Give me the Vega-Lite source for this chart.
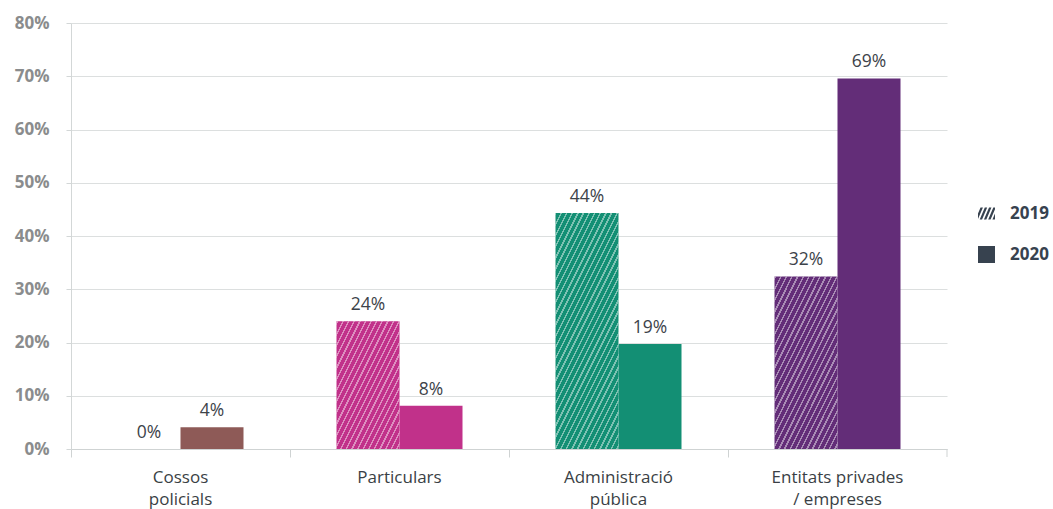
{
  "$schema": "https://vega.github.io/schema/vega-lite/v6.json",
  "width": 876,
  "height": 426,
  "autosize": {"type": "none"},
  "padding": {"left": 71, "top": 23, "right": 106, "bottom": 60},
  "background": "white",
  "config": {"view": {"stroke": null}},
  "params": [
    {"name": "hatch", "value": [
      {"offset":0,"color":"#ffffff00"},{"offset":0.0175,"color":"#ffffff00"},{"offset":0.0175,"color":"#ffffff73"},{"offset":0.025,"color":"#ffffff73"},
      {"offset":0.025,"color":"#ffffff00"},{"offset":0.0425,"color":"#ffffff00"},{"offset":0.0425,"color":"#ffffff73"},{"offset":0.05,"color":"#ffffff73"},
      {"offset":0.05,"color":"#ffffff00"},{"offset":0.0675,"color":"#ffffff00"},{"offset":0.0675,"color":"#ffffff73"},{"offset":0.075,"color":"#ffffff73"},
      {"offset":0.075,"color":"#ffffff00"},{"offset":0.0925,"color":"#ffffff00"},{"offset":0.0925,"color":"#ffffff73"},{"offset":0.1,"color":"#ffffff73"},
      {"offset":0.1,"color":"#ffffff00"},{"offset":0.1175,"color":"#ffffff00"},{"offset":0.1175,"color":"#ffffff73"},{"offset":0.125,"color":"#ffffff73"},
      {"offset":0.125,"color":"#ffffff00"},{"offset":0.1425,"color":"#ffffff00"},{"offset":0.1425,"color":"#ffffff73"},{"offset":0.15,"color":"#ffffff73"},
      {"offset":0.15,"color":"#ffffff00"},{"offset":0.1675,"color":"#ffffff00"},{"offset":0.1675,"color":"#ffffff73"},{"offset":0.175,"color":"#ffffff73"},
      {"offset":0.175,"color":"#ffffff00"},{"offset":0.1925,"color":"#ffffff00"},{"offset":0.1925,"color":"#ffffff73"},{"offset":0.2,"color":"#ffffff73"},
      {"offset":0.2,"color":"#ffffff00"},{"offset":0.2175,"color":"#ffffff00"},{"offset":0.2175,"color":"#ffffff73"},{"offset":0.225,"color":"#ffffff73"},
      {"offset":0.225,"color":"#ffffff00"},{"offset":0.2425,"color":"#ffffff00"},{"offset":0.2425,"color":"#ffffff73"},{"offset":0.25,"color":"#ffffff73"},
      {"offset":0.25,"color":"#ffffff00"},{"offset":0.2675,"color":"#ffffff00"},{"offset":0.2675,"color":"#ffffff73"},{"offset":0.275,"color":"#ffffff73"},
      {"offset":0.275,"color":"#ffffff00"},{"offset":0.2925,"color":"#ffffff00"},{"offset":0.2925,"color":"#ffffff73"},{"offset":0.3,"color":"#ffffff73"},
      {"offset":0.3,"color":"#ffffff00"},{"offset":0.3175,"color":"#ffffff00"},{"offset":0.3175,"color":"#ffffff73"},{"offset":0.325,"color":"#ffffff73"},
      {"offset":0.325,"color":"#ffffff00"},{"offset":0.3425,"color":"#ffffff00"},{"offset":0.3425,"color":"#ffffff73"},{"offset":0.35,"color":"#ffffff73"},
      {"offset":0.35,"color":"#ffffff00"},{"offset":0.3675,"color":"#ffffff00"},{"offset":0.3675,"color":"#ffffff73"},{"offset":0.375,"color":"#ffffff73"},
      {"offset":0.375,"color":"#ffffff00"},{"offset":0.3925,"color":"#ffffff00"},{"offset":0.3925,"color":"#ffffff73"},{"offset":0.4,"color":"#ffffff73"},
      {"offset":0.4,"color":"#ffffff00"},{"offset":0.4175,"color":"#ffffff00"},{"offset":0.4175,"color":"#ffffff73"},{"offset":0.425,"color":"#ffffff73"},
      {"offset":0.425,"color":"#ffffff00"},{"offset":0.4425,"color":"#ffffff00"},{"offset":0.4425,"color":"#ffffff73"},{"offset":0.45,"color":"#ffffff73"},
      {"offset":0.45,"color":"#ffffff00"},{"offset":0.4675,"color":"#ffffff00"},{"offset":0.4675,"color":"#ffffff73"},{"offset":0.475,"color":"#ffffff73"},
      {"offset":0.475,"color":"#ffffff00"},{"offset":0.4925,"color":"#ffffff00"},{"offset":0.4925,"color":"#ffffff73"},{"offset":0.5,"color":"#ffffff73"},
      {"offset":0.5,"color":"#ffffff00"},{"offset":0.5175,"color":"#ffffff00"},{"offset":0.5175,"color":"#ffffff73"},{"offset":0.525,"color":"#ffffff73"},
      {"offset":0.525,"color":"#ffffff00"},{"offset":0.5425,"color":"#ffffff00"},{"offset":0.5425,"color":"#ffffff73"},{"offset":0.55,"color":"#ffffff73"},
      {"offset":0.55,"color":"#ffffff00"},{"offset":0.5675,"color":"#ffffff00"},{"offset":0.5675,"color":"#ffffff73"},{"offset":0.575,"color":"#ffffff73"},
      {"offset":0.575,"color":"#ffffff00"},{"offset":0.5925,"color":"#ffffff00"},{"offset":0.5925,"color":"#ffffff73"},{"offset":0.6,"color":"#ffffff73"},
      {"offset":0.6,"color":"#ffffff00"},{"offset":0.6175,"color":"#ffffff00"},{"offset":0.6175,"color":"#ffffff73"},{"offset":0.625,"color":"#ffffff73"},
      {"offset":0.625,"color":"#ffffff00"},{"offset":0.6425,"color":"#ffffff00"},{"offset":0.6425,"color":"#ffffff73"},{"offset":0.65,"color":"#ffffff73"},
      {"offset":0.65,"color":"#ffffff00"},{"offset":0.6675,"color":"#ffffff00"},{"offset":0.6675,"color":"#ffffff73"},{"offset":0.675,"color":"#ffffff73"},
      {"offset":0.675,"color":"#ffffff00"},{"offset":0.6925,"color":"#ffffff00"},{"offset":0.6925,"color":"#ffffff73"},{"offset":0.7,"color":"#ffffff73"},
      {"offset":0.7,"color":"#ffffff00"},{"offset":0.7175,"color":"#ffffff00"},{"offset":0.7175,"color":"#ffffff73"},{"offset":0.725,"color":"#ffffff73"},
      {"offset":0.725,"color":"#ffffff00"},{"offset":0.7425,"color":"#ffffff00"},{"offset":0.7425,"color":"#ffffff73"},{"offset":0.75,"color":"#ffffff73"},
      {"offset":0.75,"color":"#ffffff00"},{"offset":0.7675,"color":"#ffffff00"},{"offset":0.7675,"color":"#ffffff73"},{"offset":0.775,"color":"#ffffff73"},
      {"offset":0.775,"color":"#ffffff00"},{"offset":0.7925,"color":"#ffffff00"},{"offset":0.7925,"color":"#ffffff73"},{"offset":0.8,"color":"#ffffff73"},
      {"offset":0.8,"color":"#ffffff00"},{"offset":0.8175,"color":"#ffffff00"},{"offset":0.8175,"color":"#ffffff73"},{"offset":0.825,"color":"#ffffff73"},
      {"offset":0.825,"color":"#ffffff00"},{"offset":0.8425,"color":"#ffffff00"},{"offset":0.8425,"color":"#ffffff73"},{"offset":0.85,"color":"#ffffff73"},
      {"offset":0.85,"color":"#ffffff00"},{"offset":0.8675,"color":"#ffffff00"},{"offset":0.8675,"color":"#ffffff73"},{"offset":0.875,"color":"#ffffff73"},
      {"offset":0.875,"color":"#ffffff00"},{"offset":0.8925,"color":"#ffffff00"},{"offset":0.8925,"color":"#ffffff73"},{"offset":0.9,"color":"#ffffff73"},
      {"offset":0.9,"color":"#ffffff00"},{"offset":0.9175,"color":"#ffffff00"},{"offset":0.9175,"color":"#ffffff73"},{"offset":0.925,"color":"#ffffff73"},
      {"offset":0.925,"color":"#ffffff00"},{"offset":0.9425,"color":"#ffffff00"},{"offset":0.9425,"color":"#ffffff73"},{"offset":0.95,"color":"#ffffff73"},
      {"offset":0.95,"color":"#ffffff00"},{"offset":0.9675,"color":"#ffffff00"},{"offset":0.9675,"color":"#ffffff73"},{"offset":0.975,"color":"#ffffff73"},
      {"offset":0.975,"color":"#ffffff00"},{"offset":0.9925,"color":"#ffffff00"},{"offset":0.9925,"color":"#ffffff73"},{"offset":1,"color":"#ffffff73"}
    ]}
  ],
  "data": {"values": [
    {"cat": "Cossos policials", "year": "2019", "value": 0, "label": "0%"},
    {"cat": "Cossos policials", "year": "2020", "value": 4.1, "label": "4%"},
    {"cat": "Particulars", "year": "2019", "value": 24.0, "label": "24%"},
    {"cat": "Particulars", "year": "2020", "value": 8.1, "label": "8%"},
    {"cat": "Administració pública", "year": "2019", "value": 44.3, "label": "44%"},
    {"cat": "Administració pública", "year": "2020", "value": 19.7, "label": "19%"},
    {"cat": "Entitats privades / empreses", "year": "2019", "value": 32.4, "label": "32%"},
    {"cat": "Entitats privades / empreses", "year": "2020", "value": 69.6, "label": "69%"}
  ]},
  "layer": [
    {
      "mark": {"type": "bar"},
      "encoding": {
        "x": {"field": "cat", "type": "nominal", "title": null,
          "scale": {"domain": ["Cossos policials", "Particulars", "Administració pública", "Entitats privades / empreses"], "paddingInner": 0, "paddingOuter": 0},
          "axis": {"orient": "bottom", "bandPosition": 0, "domainColor": "#cfd3d3", "tickColor": "#cfd3d3", "tickSize": 8, "labelPadding": 12, "labelAngle": 0,
            "labelFont": "Open Sans", "labelFontSize": 17, "labelColor": "#3a3f45", "labelLineHeight": 22, "grid": false,
            "labelExpr": "datum.value == 'Cossos policials' ? ['Cossos', 'policials'] : datum.value == 'Administració pública' ? ['Administració', 'pública'] : datum.value == 'Entitats privades / empreses' ? ['Entitats privades', '/ empreses'] : datum.value"}},
        "xOffset": {"field": "year", "type": "nominal", "scale": {"domain": ["2019", "2020"], "paddingInner": 0, "paddingOuter": 0.738}},
        "y": {"field": "value", "type": "quantitative", "title": null,
          "scale": {"domain": [0, 80], "nice": false},
          "axis": {"values": [0, 10, 20, 30, 40, 50, 60, 70, 80], "grid": true, "gridColor": "#dcdfdf", "domainColor": "#d3d7d7", "tickColor": "#d3d7d7", "tickSize": 5,
            "labelPadding": 17, "labelFont": "Open Sans", "labelFontWeight": "bold", "labelFontSize": 17, "labelColor": "#8a8c8d", "labelExpr": "datum.value + '%'"}},
        "color": {"field": "cat", "type": "nominal", "legend": null,
          "scale": {"domain": ["Cossos policials", "Particulars", "Administració pública", "Entitats privades / empreses"], "range": ["#8e5a57", "#c1318a", "#138f74", "#632d78"]}}
      }
    },
    {
      "transform": [{"filter": "datum.year == '2019' && datum.cat == 'Particulars'"}],
      "mark": {"type": "bar", "fill": {"expr": "{gradient: 'linear', x1: -0.37985, y1: -0.38528, x2: 1.37266, y2: 1.39232, stops: hatch}"}},
      "encoding": {
        "x": {"field": "cat", "type": "nominal"},
        "xOffset": {"field": "year", "type": "nominal"},
        "y": {"field": "value", "type": "quantitative"}
      }
    },
    {
      "transform": [{"filter": "datum.year == '2019' && datum.cat == 'Administració pública'"}],
      "mark": {"type": "bar", "fill": {"expr": "{gradient: 'linear', x1: -0.07584, y1: -0.14198, x2: 0.71339, y2: 1.3356, stops: hatch}"}},
      "encoding": {
        "x": {"field": "cat", "type": "nominal"},
        "xOffset": {"field": "year", "type": "nominal"},
        "y": {"field": "value", "type": "quantitative"}
      }
    },
    {
      "transform": [{"filter": "datum.year == '2019' && datum.cat == 'Entitats privades / empreses'"}],
      "mark": {"type": "bar", "fill": {"expr": "{gradient: 'linear', x1: -0.20787, y1: -0.28377, x2: 1.03383, y2: 1.41126, stops: hatch}"}},
      "encoding": {
        "x": {"field": "cat", "type": "nominal"},
        "xOffset": {"field": "year", "type": "nominal"},
        "y": {"field": "value", "type": "quantitative"}
      }
    },
    {
      "mark": {"type": "text", "baseline": "middle", "align": "center", "dy": -16, "font": "Open Sans", "fontSize": 17.5, "color": "#3d434a"},
      "encoding": {
        "x": {"field": "cat", "type": "nominal"},
        "xOffset": {"field": "year", "type": "nominal"},
        "y": {"field": "value", "type": "quantitative"},
        "text": {"field": "label", "type": "nominal"}
      }
    },
    {
      "transform": [{"filter": "datum.year == '2020' && datum.cat == 'Entitats privades / empreses'"}],
      "mark": {"type": "rule", "color": "#cfd3d3", "strokeWidth": 1},
      "encoding": {
        "x": {"field": "cat", "type": "nominal", "bandPosition": 1},
        "y": {"datum": 0, "type": "quantitative"},
        "y2": {"datum": -1.5}
      }
    },
    {
      "mark": {"type": "point", "filled": true, "opacity": 0, "color": "#37424f"},
      "encoding": {
        "x": {"field": "cat", "type": "nominal"},
        "xOffset": {"field": "year", "type": "nominal"},
        "y": {"field": "value", "type": "quantitative"},
        "shape": {"field": "year", "type": "nominal",
          "scale": {"domain": ["2019", "2020"], "range": ["M-1,0.653L-1,0L-0.7,-0.7L-0.42,-0.7Z M-0.8,0.7L-0.52,0.7L0.08,-0.7L-0.2,-0.7Z M-0.3,0.7L-0.02,0.7L0.58,-0.7L0.3,-0.7Z M0.2,0.7L0.48,0.7L1,-0.513L1,-0.7L0.8,-0.7Z M0.7,0.7L0.98,0.7L1,0.653L1,0Z", "square"]},
          "legend": {"title": null, "orient": "none", "legendX": 907, "legendY": 182, "symbolSize": 289, "symbolOpacity": 1, "symbolFillColor": "#37424f", "symbolStrokeWidth": 0,
            "labelFont": "Open Sans", "labelFontSize": 17, "labelFontWeight": "bold", "labelColor": "#37424f", "labelOffset": 15, "rowPadding": 23}}
      }
    }
  ]
}
